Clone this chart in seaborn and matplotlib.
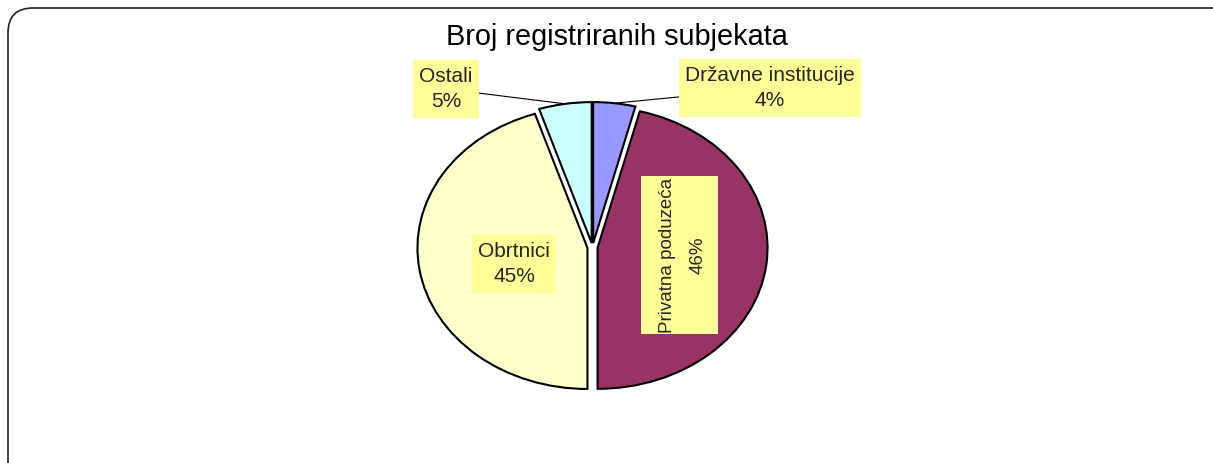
import numpy as np
import matplotlib
matplotlib.use('Agg')
import matplotlib.pyplot as plt
from matplotlib.patches import FancyBboxPatch, Rectangle
import seaborn as sns

# data
categories = ['Državne institucije', 'Privatna poduzeća', 'Obrtnici', 'Ostali']
shares = [4, 46, 45, 5]
colors = ['#9999FF', '#993366', '#FFFFCC', '#CCFFFF']
title = 'Broj registriranih subjekata'

sns.set_theme(style='white')
plt.rcParams['font.family'] = ['Liberation Sans', 'DejaVu Sans']

W, H = 1213, 463
fig = plt.figure(figsize=(W / 100, H / 100), dpi=100)
fig.patch.set_facecolor('white')

# overlay in pixel coords for frame, title and inner labels
bg = fig.add_axes([0, 0, 1, 1])
bg.set_xlim(0, W)
bg.set_ylim(H, 0)
bg.axis('off')
bg.set_zorder(3)
frame = FancyBboxPatch((8, 8), 1230, 480, boxstyle='round,pad=0,rounding_size=25',
                       facecolor='none', edgecolor='#222222', lw=1.2, clip_on=False)
bg.add_patch(frame)
bg.text(617, 37, title, ha='center', va='center', fontsize=20.8, color='black')

# pie axes, stretched to an ellipse
rx, ry = 170, 141
cx, cy = 592.5, H - 247.3
lim = 1.3
ax = fig.add_axes([(cx - lim * rx) / W, (cy - lim * ry) / H,
                   2 * lim * rx / W, 2 * lim * ry / H])
ax.set_zorder(1)
wedges, _ = ax.pie(shares, colors=sns.color_palette(colors), startangle=90,
                   counterclock=False, explode=[0.03] * 4,
                   wedgeprops=dict(edgecolor='black', linewidth=1.5))
ax.set_xlim(-lim, lim)
ax.set_ylim(-lim, lim)
ax.set_aspect('auto')
ax.axis('off')

box = dict(boxstyle='square,pad=0.3', facecolor='#FFFF99', edgecolor='none')
lab = [f'{c}\n{s}%' for c, s in zip(categories, shares)]
fs = 15

# labels with leader lines for the small slices
for i, pos in [(0, (770, 88)), (3, (446, 89))]:
    w = wedges[i]
    mid = np.deg2rad((w.theta1 + w.theta2) / 2)
    ox, oy = w.center
    ax.annotate(lab[i], xy=(ox + np.cos(mid), oy + np.sin(mid)),
                xytext=(pos[0], H - pos[1]), textcoords='figure pixels',
                ha='center', va='center', fontsize=fs, bbox=box, linespacing=1.45,
                arrowprops=dict(arrowstyle='-', color='black', lw=0.8,
                                shrinkA=0, shrinkB=0), zorder=5)

# rotated label inside the big slice, box wider than the text
bg.add_patch(Rectangle((641, 176), 77, 158, facecolor='#FFFF99', edgecolor='none', zorder=4))
bg.text(683, 255, lab[1], ha='center', va='center', rotation=90,
        multialignment='center', fontsize=13.5, linespacing=2.0, zorder=5)
bg.text(514, 264, lab[2], ha='center', va='center', linespacing=1.45,
        multialignment='center', fontsize=fs, bbox=box, zorder=5)

fig.savefig('out.png', dpi=100)
